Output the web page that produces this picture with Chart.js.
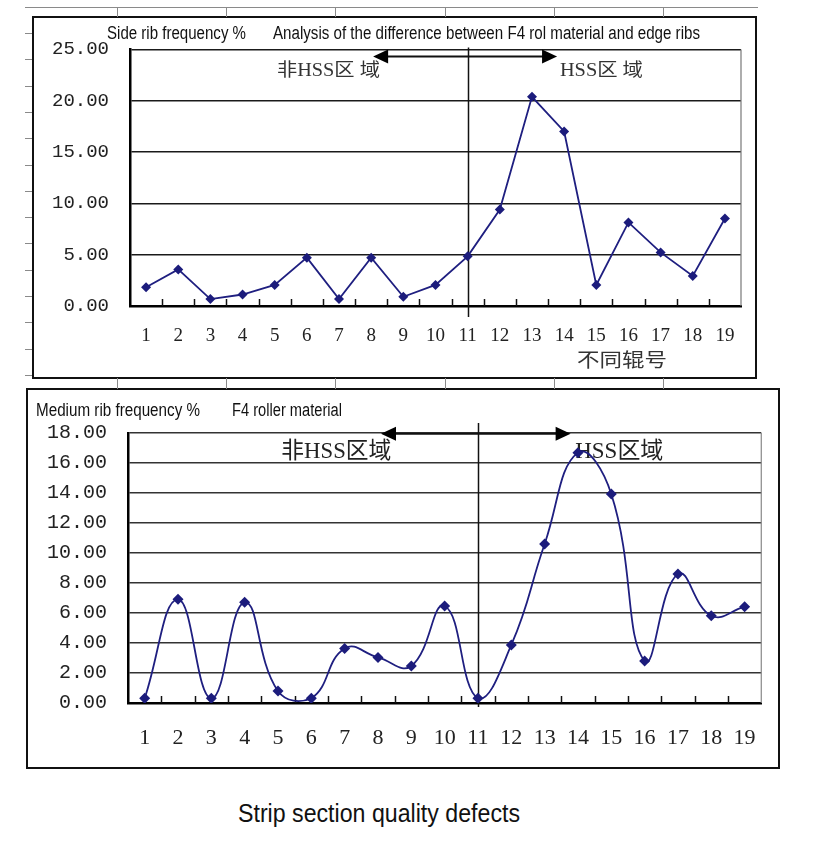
<!DOCTYPE html>
<html>
<head>
<meta charset="utf-8">
<script src="https://cdn.jsdelivr.net/npm/chart.js@4/dist/chart.umd.min.js"></script>
<style>
  html, body { margin: 0; padding: 0; background: #fff; }
  body { width: 826px; height: 866px; position: relative; overflow: hidden; font-family: "Liberation Sans", Arial, sans-serif; }
  .abs { position: absolute; }
  .box { position: absolute; border: 2.5px solid #111; box-sizing: border-box; pointer-events: none; }
  .txt { position: absolute; white-space: nowrap; transform-origin: 0 50%; color: #111; line-height: 1; }
  .art { position: absolute; background: #8a8a8a; }
</style>
</head>
<body>
<canvas id="c1" class="abs" width="723" height="360" style="left:33px;top:17px;"></canvas>
<canvas id="c2" class="abs" width="751" height="378" style="left:27px;top:389px;"></canvas>
<div class="box" style="left:32px;top:16px;width:725px;height:363px;"></div>
<div class="box" style="left:26px;top:388px;width:754px;height:381px;"></div>
<div id="texts"></div>
<script>
// ---------------- data ----------------
const rollNumbers = ['1','2','3','4','5','6','7','8','9','10','11','12','13','14','15','16','17','18','19'];
const sideRibFrequency = [1.83, 3.56, 0.67, 1.12, 2.05, 4.71, 0.67, 4.71, 0.90, 2.05, 4.84, 9.39, 20.38, 17.00, 2.05, 8.14, 5.22, 2.92, 8.53];
const mediumRibFrequency = [0.31, 6.91, 0.31, 6.71, 0.80, 0.31, 3.64, 3.04, 2.47, 6.47, 0.31, 3.87, 10.60, 16.69, 13.93, 2.80, 8.60, 5.82, 6.42];
const sideAxisTicks = [0, 5, 10, 15, 20, 25];
const mediumAxisTicks = [0, 2, 4, 6, 8, 10, 12, 14, 16, 18];
const sideTitle = 'Side rib frequency %';
const sideSubtitle = 'Analysis of the difference between F4 rol material and edge ribs';
const mediumTitle = 'Medium rib frequency %';
const mediumSubtitle = 'F4 roller material';
const caption = 'Strip section quality defects';
const zoneNonHssTop = '非HSS区 域';
const zoneHssTop = 'HSS区 域';
const zoneNonHssBottom = '非HSS区域';
const zoneHssBottom = 'HSS区域';
const xAxisTitle = '不同辊号';

// ---------------- helpers ----------------
const measureCtx = document.createElement('canvas').getContext('2d');
function htmlText(text, left, cy, size, width, family, weight) {
  const d = document.createElement('div');
  d.className = 'txt';
  const font = (weight || 'normal') + ' ' + size + 'px ' + family;
  d.style.font = font;
  d.style.left = left + 'px';
  d.style.top = (cy - size / 2) + 'px';
  d.style.height = size + 'px';
  d.textContent = text;
  measureCtx.font = font;
  const w = measureCtx.measureText(text).width;
  d.style.transform = 'scaleX(' + (width / w) + ')';
  document.getElementById('texts').appendChild(d);
}
function art(l, t, w, h) {
  const d = document.createElement('div');
  d.className = 'art';
  d.style.left = l + 'px'; d.style.top = t + 'px'; d.style.width = w + 'px'; d.style.height = h + 'px';
  document.body.appendChild(d);
}

// scan artefacts of the spreadsheet grid
art(25, 7, 733, 1);
[117, 226, 335, 445, 554, 663].forEach(x => { art(x, 7, 1, 10); art(x, 378, 1, 11); });
for (let i = 0; i < 14; i++) art(25, Math.round(33 + i * 26.3), 7, 1);

const SANS = '"Liberation Sans", Arial, sans-serif';
htmlText(sideTitle, 107, 32, 18, 139, SANS);
htmlText(sideSubtitle, 273, 32, 18, 427, SANS);
htmlText(mediumTitle, 36, 409, 18, 164, SANS);
htmlText(mediumSubtitle, 232, 409, 18, 110, SANS);
htmlText(caption, 238, 811, 26, 282, SANS);

// ---------------- decoration plugin ----------------
const CJK = '"Liberation Serif", "Noto Sans CJK SC", serif';
function fitText(ctx, text, cx, cy, font, width, color) {
  ctx.save();
  ctx.font = font;
  const w = ctx.measureText(text).width;
  ctx.translate(cx, cy);
  ctx.scale(width / w, 1);
  ctx.textAlign = 'center';
  ctx.textBaseline = 'middle';
  ctx.fillStyle = color || '#222';
  ctx.fillText(text, 0, 0);
  ctx.restore();
}
const decor = {
  id: 'decor',
  beforeDatasetsDraw(chart, args, o) {
    const {ctx, chartArea: a, scales: {x, y}} = chart;
    const px = v => x.getPixelForValue(v);
    ctx.save();
    // right frame
    ctx.strokeStyle = o.frameColor; ctx.lineWidth = 1.2;
    ctx.beginPath(); ctx.moveTo(a.right, a.top); ctx.lineTo(a.right, a.bottom); ctx.stroke();
    // inward ticks between categories
    ctx.strokeStyle = '#111'; ctx.lineWidth = 1.5;
    const n = chart.data.labels.length;
    for (let i = 0; i < n - 1; i++) {
      const xx = Math.round(px(i + 0.5)) + 0.5;
      ctx.beginPath(); ctx.moveTo(xx, a.bottom); ctx.lineTo(xx, a.bottom - o.tickLen); ctx.stroke();
    }
    // divider
    const dx = Math.round(px(o.divider)) + 0.5;
    ctx.lineWidth = 1.5;
    ctx.beginPath(); ctx.moveTo(dx, a.top + o.divTop); ctx.lineTo(dx, a.bottom + o.divBottom); ctx.stroke();
    // double arrow
    const ay = y.getPixelForValue(o.arrowY);
    const x1 = px(o.arrowFrom), x2 = px(o.arrowTo);
    ctx.lineWidth = 2;
    ctx.beginPath(); ctx.moveTo(x1 + 10, ay); ctx.lineTo(x2 - 10, ay); ctx.stroke();
    ctx.fillStyle = '#000';
    ctx.beginPath(); ctx.moveTo(x1, ay); ctx.lineTo(x1 + 15, ay - 7); ctx.lineTo(x1 + 15, ay + 7); ctx.closePath(); ctx.fill();
    ctx.beginPath(); ctx.moveTo(x2, ay); ctx.lineTo(x2 - 15, ay - 7); ctx.lineTo(x2 - 15, ay + 7); ctx.closePath(); ctx.fill();
    // labels
    o.labels.forEach(l => {
      const cy = l.below !== undefined ? a.bottom + l.below : y.getPixelForValue(l.v);
      fitText(ctx, l.text, px(l.at), cy, l.size + 'px ' + CJK, l.width, l.color);
    });
    ctx.restore();
  }
};

function makeChart(id, values, ticks, opt) {
  return new Chart(document.getElementById(id), {
    type: 'line',
    data: {
      labels: rollNumbers,
      datasets: [{
        data: values,
        borderColor: '#1f1f80',
        backgroundColor: '#1c1c7c',
        borderWidth: 1.8,
        pointStyle: 'rectRot',
        pointRadius: opt.pointRadius,
        pointBorderWidth: 0,
        tension: opt.tension,
        fill: false
      }]
    },
    options: {
      responsive: false,
      devicePixelRatio: 1,
      animation: false,
      layout: { padding: { left: 0, top: opt.padTop, right: 15, bottom: 0 } },
      plugins: { legend: { display: false }, tooltip: { enabled: false }, decor: opt.decor },
      scales: {
        x: {
          type: 'category',
          offset: true,
          grid: { display: false, drawTicks: false, offset: true },
          border: { display: true, color: '#000', width: 2.5 },
          ticks: { font: { family: 'Liberation Serif', size: opt.xFont }, color: '#222', padding: opt.xPad, maxRotation: 0, autoSkip: false },
          afterFit: s => { s.height = opt.xHeight; }
        },
        y: {
          min: ticks[0], max: ticks[ticks.length - 1],
          afterBuildTicks: s => { s.ticks = ticks.map(v => ({ value: v })); },
          grid: { color: opt.gridColor, lineWidth: 1.5, drawTicks: false },
          border: { display: true, color: '#000', width: 2.5 },
          ticks: { font: { family: 'Liberation Mono', size: opt.yFont }, color: '#222', padding: 21, callback: v => Number(v).toFixed(2) },
          afterFit: s => { s.width = opt.yWidth; }
        }
      }
    },
    plugins: [decor]
  });
}

makeChart('c1', sideRibFrequency, sideAxisTicks, {
  padTop: 29, xHeight: 71, yWidth: 97, xFont: 19, yFont: 19, xPad: 19, tension: 0, pointRadius: 5,
  gridColor: '#1a1a1a',
  decor: {
    frameColor: '#777', tickLen: 7, divider: 10, divTop: -2, divBottom: 11,
    arrowY: 24.3, arrowFrom: 7.06, arrowTo: 12.78,
    labels: [
      { text: zoneNonHssTop, at: 5.67, v: 22.85, size: 18, width: 103, color: '#333' },
      { text: zoneHssTop, at: 14.16, v: 22.85, size: 18, width: 83, color: '#333' },
      { text: xAxisTitle, at: 14.8, below: 56, size: 19, width: 90, color: '#333' }
    ]
  }
});

makeChart('c2', mediumRibFrequency, mediumAxisTicks, {
  padTop: 44, xHeight: 64, yWidth: 101, xFont: 22, yFont: 20, xPad: 22, tension: 0.45, pointRadius: 5.5,
  gridColor: '#333',
  decor: {
    frameColor: '#888', tickLen: 7, divider: 10, divTop: -10, divBottom: 4,
    arrowY: 17.95, arrowFrom: 7.09, arrowTo: 12.78,
    labels: [
      { text: zoneNonHssBottom, at: 5.75, v: 16.73, size: 23, width: 110 },
      { text: zoneHssBottom, at: 14.24, v: 16.73, size: 23, width: 88 }
    ]
  }
});
</script>
</body>
</html>
